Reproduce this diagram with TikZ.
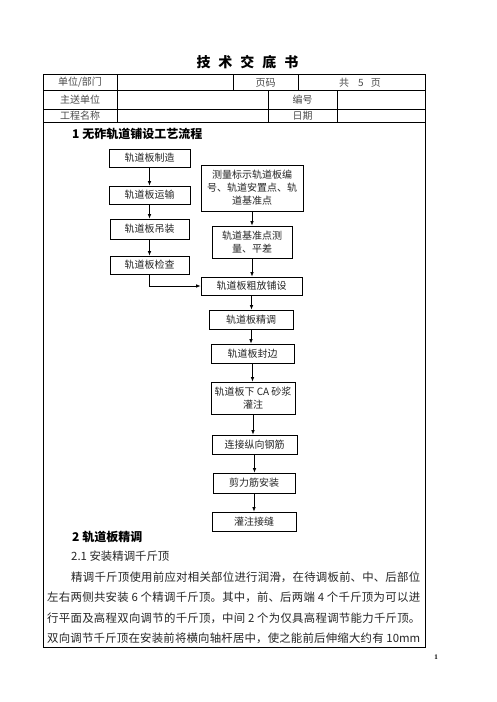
\documentclass[tikz,border=0pt]{standalone}
\usepackage{fontspec}
\setmainfont{Liberation Serif}
\newfontfamily\cjk{Noto Sans CJK SC}
\usetikzlibrary{arrows.meta}
\XeTeXlinebreaklocale "zh"
\XeTeXlinebreakskip=0pt plus 2pt
\tikzset{
  x=1pt, y=-1pt,
  frame/.style={line width=0.8pt, draw=black},
  box/.style={draw=black, line width=0.8pt, inner sep=0pt, align=center,
    font=\cjk\fontsize{10}{13}\selectfont, text=black!85},
  arr/.style={-{Latex[length=4.5pt,width=3.6pt]}, line width=0.8pt},
  cell/.style={inner sep=0pt, font=\cjk\fontsize{10}{12}\selectfont, text=black!70},
  head/.style={inner sep=0pt, anchor=base west, font=\cjk\bfseries\fontsize{12}{14}\selectfont},
}
\begin{document}
\begin{tikzpicture}
\useasboundingbox[fill=white] (0,0) rectangle (496,702);
% title
\node[inner sep=0pt, anchor=base, font=\cjk\bfseries\fontsize{14}{16}\selectfont] (title) at (247.5,67)
  {技\hspace{8pt}术\hspace{8pt}交\hspace{8pt}底\hspace{8pt}书};
% table frame
\draw[frame] (43,74) rectangle (425,647);
\draw[frame] (43,90.5) -- (425,90.5);
\draw[frame] (43,109.5) -- (425,109.5);
\draw[frame] (43,122.5) -- (425,122.5);
\draw[frame] (117,74) -- (117,122.5);
\draw[frame] (233,74) -- (233,90.5);
\draw[frame] (298,74) -- (298,90.5);
\draw[frame] (268,90.5) -- (268,122.5);
\draw[frame] (337,90.5) -- (337,122.5);
% table texts
\node[cell] (t1) at (80,82.5) {单位/部门};
\node[cell] (t2) at (265.5,82.5) {页码};
\node[cell] (t3) at (360,82.5) {共\hspace{9pt}5\hspace{7pt}页};
\node[cell] (t4) at (80,100) {主送单位};
\node[cell] (t5) at (302.5,100) {编号};
\node[cell] (t6) at (80,116) {工程名称};
\node[cell] (t7) at (302.5,116) {日期};
% heading 1
\node[head] (h1) at (72,138.5) {1 无砟轨道铺设工艺流程};
% left column
\node[box, minimum width=81pt, minimum height=18pt] (b1) at (149.5,158) {轨道板制造};
\node[box, minimum width=81pt, minimum height=18pt] (b2) at (149.5,195) {轨道板运输};
\node[box, minimum width=79pt, minimum height=20pt] (b3) at (149.5,229) {轨道板吊装};
\node[box, minimum width=79pt, minimum height=18pt] (b4) at (149.5,265) {轨道板检查};
% right column
\node[box, minimum width=102pt, minimum height=46pt] (r1) at (252,188) {测量标示轨道板编\\号、轨道安置点、轨\\道基准点};
\node[box, minimum width=80pt, minimum height=32pt] (r2) at (252,242) {轨道基准点测\\量、平差};
% main chain
\node[box, minimum width=101pt, minimum height=18pt] (c1) at (251.5,286) {轨道板粗放铺设};
\node[box, minimum width=84pt, minimum height=19pt] (c2) at (251,319.5) {轨道板精调};
\node[box, minimum width=83pt, minimum height=19pt] (c3) at (252.5,353.5) {轨道板封边};
\node[box, minimum width=84pt, minimum height=32pt] (c4) at (253,398) {轨道板下 CA 砂浆\\灌注};
\node[box, minimum width=85pt, minimum height=19pt] (c5) at (254.5,444.5) {连接纵向钢筋};
\node[box, minimum width=82pt, minimum height=20pt] (c6) at (254,483) {剪力筋安装};
\node[box, minimum width=84pt, minimum height=19pt] (c7) at (254,521.5) {灌注接缝};
% arrows
\draw[arr] (b1.south) -- (b2.north);
\draw[arr] (b2.south) -- (b3.north);
\draw[arr] (b3.south) -- (b4.north);
\draw[arr] (b4.south) |- (c1.west);
\draw[arr] (r1.south) -- (r1.south |- r2.north);
\draw[arr] (r2.south) -- (r2.south |- c1.north);
\draw[arr] (c1.south) -- (c1.south |- c2.north);
\draw[arr] (c2.south) -- (c2.south |- c3.north);
\draw[arr] (c3.south) -- (c3.south |- c4.north);
\draw[arr] (c4.south) -- (c4.south |- c5.north);
\draw[arr] (c5.south) -- (c5.south |- c6.north);
\draw[arr] (c6.south) -- (c6.south |- c7.north);
% section 2
\node[head] (h2) at (72,541.5) {2 轨道板精调};
\node[inner sep=0pt, anchor=base west, font=\cjk\fontsize{11.4}{14}\selectfont, text=black!85] (s21) at (71,560.5) {2.1 安装精调千斤顶};
\node[inner sep=0pt, anchor=base west, font=\cjk\fontsize{11.4}{20.3}\selectfont, text=black!85] (para) at (47,581.5)
{\parbox[t]{373pt}{\parindent=24pt\parfillskip=0pt\relax
精调千斤顶使用前应对相关部位进行润滑，在待调板前、中、后部位\linebreak
左右两侧共安装 6 个精调千斤顶。其中，前、后两端 4 个千斤顶为可以进\linebreak
行平面及高程双向调节的千斤顶，中间 2 个为仅具高程调节能力千斤顶。\linebreak
双向调节千斤顶在安装前将横向轴杆居中，使之能前后伸缩大约有 10mm}};
% page number
\node[inner sep=0pt, font=\bfseries\fontsize{7}{8}\selectfont] (pg) at (436,657) {1};
\end{tikzpicture}
\end{document}
